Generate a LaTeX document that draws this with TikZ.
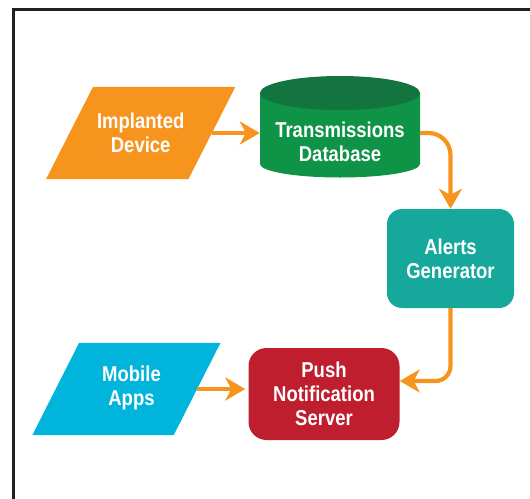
\documentclass[tikz,border=0pt]{standalone}
\usepackage{fontspec}
\newfontfamily\lblfont{Liberation Sans}[FakeStretch=0.86]
\usetikzlibrary{arrows.meta,backgrounds}
\definecolor{cOrange}{HTML}{F7941E}
\definecolor{cGreen}{HTML}{0F9346}
\definecolor{cDark}{HTML}{137440}
\definecolor{cTeal}{HTML}{16A99B}
\definecolor{cRed}{HTML}{BE1E2D}
\definecolor{cCyan}{HTML}{00B4DB}
\definecolor{cFrame}{HTML}{231F20}
\begin{document}
\begin{tikzpicture}[x=1pt,y=-1pt,
  lbl/.style={text=white, font=\lblfont\bfseries\fontsize{21.5}{24.3}\selectfont, align=center, inner sep=0pt},
  shapebox/.style={inner sep=0pt, minimum width=#1},
  roundbox/.style={lbl, rounded corners=#1},
  arr/.style={draw=cOrange, line width=4.2pt, -{Stealth[length=20pt,width=23pt,inset=6pt]}},
  frame/.style={draw=cFrame, line width=3pt}
]
\useasboundingbox (0,0) rectangle (530,498);
\clip (0,0) rectangle (530,498);
\draw[frame] (13.5,520) -- (13.5,9) -- (545,9);

% Implanted Device
\node[lbl, minimum width=142pt, minimum height=92pt] (dev) at (140.7,133) {Implanted\\Device};
% Transmissions Database
\node[inner sep=0pt, minimum width=160pt, minimum height=101.5pt] (db) at (340,126.75) {};
\node[lbl] (dbt) at (340,142) {Transmissions\\Database};
% Alerts Generator
\node[roundbox=15pt, fill=cTeal, minimum width=127pt, minimum height=99pt] (alerts) at (450.5,258.5) {Alerts\\Generator};
% Push Notification Server
\node[roundbox=18pt, fill=cRed, minimum width=151pt, minimum height=92pt] (push) at (324,394) {Push\\Notification\\Server};
% Mobile Apps
\node[inner sep=0pt, minimum width=141pt, minimum height=92pt] (mob) at (126.4,389) {};
\node[lbl] (mobt) at (131.5,388) {Mobile\\Apps};

\begin{scope}[on background layer]
  \fill[cOrange] ([xshift=23.5pt]dev.north west) -- ([xshift=23.5pt]dev.north east)
     -- ([xshift=-23.5pt]dev.south east) -- ([xshift=-23.5pt]dev.south west) -- cycle;
  \fill[cCyan] ([xshift=23.4pt]mob.north west) -- ([xshift=23.4pt]mob.north east)
     -- ([xshift=-23.4pt]mob.south east) -- ([xshift=-23.4pt]mob.south west) -- cycle;
  \fill[cGreen] (260,93) -- (260,164) arc[start angle=180, end angle=0, x radius=80, y radius=13.5]
     -- (420,93) -- cycle;
  \fill[cDark] (340,93) ellipse[x radius=80, y radius=17];
\end{scope}

\draw[arr] (dev.east) -- (dev.east -| db.west);
\draw[arr, rounded corners=22pt] (db.east |- dev.east) -| (alerts.north);
\draw[arr, rounded corners=15pt] (alerts.south) |- ([yshift=13pt]push.east);
\draw[arr, shorten >=3pt] (mob.east) -- (mob.east -| push.west);
\end{tikzpicture}
\end{document}
